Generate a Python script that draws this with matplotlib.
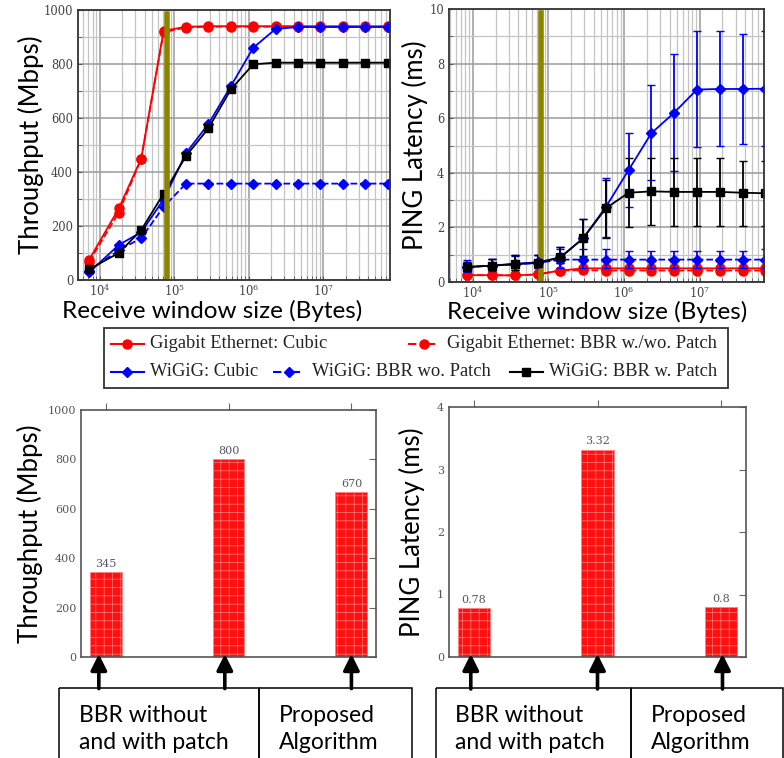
import matplotlib
matplotlib.use('Agg')
import matplotlib.pyplot as plt
from matplotlib.patches import Rectangle
from matplotlib.ticker import MultipleLocator, LogLocator

W, H = 784, 758
plt.rcParams['mathtext.fontset'] = 'dejavuserif'
plt.rcParams['hatch.linewidth'] = 0.5
SANS = 'Lato'
SERIF = 'DejaVu Serif'

# receive window sizes (bytes)
rwnd = [7.2e3, 1.8e4, 3.6e4, 7.2e4, 1.44e5, 2.88e5, 5.76e5, 1.15e6,
        2.3e6, 4.6e6, 9.2e6, 1.84e7, 3.7e7, 7.4e7]
rwnd_ping = [8.5e3] + rwnd[1:]
bdp = 8e4

# throughput (Mbps)
thr_gbe_cubic = [75, 265, 450, 923, 938, 940, 940, 940, 940, 940, 940, 940, 940, 940]
thr_gbe_bbr = [68, 250, 448, 918, 935, 938, 938, 938, 938, 938, 938, 938, 938, 938]
thr_wigig_cubic = [28, 130, 177, 298, 470, 578, 718, 860, 930, 937, 937, 937, 937, 937]
thr_wigig_bbr = [35, 110, 155, 271, 357, 357, 357, 357, 357, 357, 357, 357, 357, 357]
thr_wigig_patch = [40, 100, 185, 320, 459, 562, 706, 799, 805, 805, 805, 805, 805, 805]

# ping latency (ms)
ping_gbe_cubic = [0.25, 0.25, 0.24, 0.28, 0.42, 0.5, 0.5, 0.5, 0.5, 0.5, 0.5, 0.5, 0.5, 0.5]
ping_gbe_bbr = [0.25, 0.25, 0.24, 0.28, 0.42, 0.43, 0.42, 0.42, 0.42, 0.42, 0.42, 0.42, 0.42, 0.42]
ping_wigig_cubic = [0.55, 0.6, 0.67, 0.72, 0.9, 1.6, 2.75, 4.1, 5.45, 6.2, 7.05, 7.07, 7.07, 7.08]
ping_wigig_cubic_lo = [0.35, 0.4, 0.45, 0.5, 0.7, 0.9, 1.65, 2.75, 3.75, 4.05, 4.95, 4.97, 5.05, 4.97]
ping_wigig_cubic_hi = [0.8, 0.85, 0.95, 1.0, 1.3, 2.3, 3.82, 5.45, 7.2, 8.35, 9.2, 9.2, 9.07, 9.2]
ping_wigig_bbr = [0.55, 0.6, 0.65, 0.7, 0.82, 0.82, 0.82, 0.82, 0.82, 0.82, 0.82, 0.82, 0.82, 0.82]
ping_wigig_bbr_lo = [0.4, 0.45, 0.45, 0.5, 0.5, 0.5, 0.5, 0.5, 0.5, 0.5, 0.5, 0.5, 0.5, 0.5]
ping_wigig_bbr_hi = [0.75, 0.85, 1.0, 1.0, 1.2, 1.2, 1.2, 1.15, 1.15, 1.15, 1.15, 1.15, 1.15, 1.2]
ping_wigig_patch = [0.55, 0.6, 0.65, 0.7, 0.9, 1.6, 2.7, 3.27, 3.32, 3.3, 3.3, 3.3, 3.27, 3.25]
ping_wigig_patch_lo = [0.4, 0.45, 0.45, 0.5, 0.7, 0.95, 1.62, 2.0, 2.1, 2.05, 2.05, 2.05, 2.05, 2.05]
ping_wigig_patch_hi = [0.75, 0.85, 1.0, 1.0, 1.3, 2.3, 3.75, 4.55, 4.55, 4.55, 4.55, 4.55, 4.45, 4.42]

# bar summaries
bar_pos = [0, 1, 2]
bar_thr = [345, 800, 670]
bar_ping = [0.78, 3.32, 0.8]
bar_thr_labels = ['345', '800', '670']
bar_ping_labels = ['0.78', '3.32', '0.8']

box_labels = ['BBR without\nand with patch', 'Proposed\nAlgorithm']

legend_entries = [
    ('Gigabit Ethernet: Cubic', 'red', '-', 'o'),
    ('Gigabit Ethernet: BBR w./wo. Patch', 'red', '--', 'o'),
    ('WiGiG: Cubic', 'blue', '-', 'D'),
    ('WiGiG: BBR wo. Patch', 'blue', '--', 'D'),
    ('WiGiG: BBR w. Patch', 'black', '-', 's'),
]


def add_ax(l, t, r, b):
    return fig.add_axes([l / W, 1 - b / H, (r - l) / W, (b - t) / H])


def style_top(ax):
    ax.set_xscale('log')
    ax.xaxis.set_major_locator(LogLocator(base=10, numticks=12))
    ax.xaxis.set_minor_locator(LogLocator(base=10, subs=range(2, 10), numticks=12))
    ax.grid(True, which='major', color='#9a9a9a', lw=1.1)
    ax.grid(True, which='minor', color='#c4c4c4', lw=0.9)
    ax.set_axisbelow(True)
    for s in ax.spines.values():
        s.set_color('#333333')
        s.set_linewidth(1.3)
    ax.tick_params(which='both', direction='in', length=3, color='#555555',
                   labelsize=8.3, labelcolor='#444444')
    ax.tick_params(axis='x', pad=2)
    for lab in ax.get_xticklabels() + ax.get_yticklabels():
        lab.set_family(SERIF)


fig = plt.figure(figsize=(W / 100, H / 100), dpi=100)

# ---------- top left: throughput vs rwnd ----------
ax1 = add_ax(78, 10, 390, 280)
ax1.plot(rwnd, thr_gbe_cubic, '-o', color='red', ms=6.5, lw=1.3)
ax1.plot(rwnd, thr_gbe_bbr, '--o', color='red', ms=6.5, lw=1.3)
ax1.plot(rwnd, thr_wigig_cubic, '-D', color='blue', ms=5.5, lw=1.3)
ax1.plot(rwnd, thr_wigig_bbr, '--D', color='blue', ms=5.5, lw=1.3)
ax1.plot(rwnd, thr_wigig_patch, '-s', color='black', ms=5.5, lw=1.3)
ax1.axvline(bdp, color='#8c8400', lw=4, ymin=0.01, ymax=0.985)
ax1.set_xlim(5.1e3, 7.9e7)
ax1.set_ylim(0, 1000)
ax1.yaxis.set_major_locator(MultipleLocator(200))
ax1.yaxis.set_minor_locator(MultipleLocator(100))
style_top(ax1)
ax1.set_ylabel('Throughput (Mbps)', family=SANS, fontsize=18.5)
ax1.yaxis.set_label_coords(-0.11, 0.5)
ax1.set_xlabel('Receive window size (Bytes)', family=SANS, fontsize=17.5, labelpad=0)
ax1.xaxis.set_label_coords(0.43, -0.072)

# ---------- top right: ping vs rwnd ----------
ax2 = add_ax(449, 9, 764, 282)
ax2.plot(rwnd_ping, ping_gbe_cubic, '-o', color='red', ms=6.5, lw=1.3)
ax2.plot(rwnd_ping, ping_gbe_bbr, '--o', color='red', ms=6.5, lw=1.3)
series = [
    (ping_wigig_cubic, ping_wigig_cubic_lo, ping_wigig_cubic_hi, 'blue', '-', 'D'),
    (ping_wigig_bbr, ping_wigig_bbr_lo, ping_wigig_bbr_hi, 'blue', '--', 'D'),
    (ping_wigig_patch, ping_wigig_patch_lo, ping_wigig_patch_hi, 'black', '-', 's'),
]
for mean, lo, hi, c, ls, m in series:
    err = [[mv - l for mv, l in zip(mean, lo)], [h - mv for mv, h in zip(mean, hi)]]
    ax2.errorbar(rwnd_ping, mean, yerr=err, color=c, ls=ls, marker=m, ms=5.5, lw=1.3,
                 elinewidth=1.3, capsize=3)
ax2.axvline(bdp, color='#8c8400', lw=4, ymin=0.01, ymax=0.985)
ax2.set_xlim(4.85e3, 7.1e7)
ax2.set_ylim(0, 10)
ax2.yaxis.set_major_locator(MultipleLocator(2))
ax2.yaxis.set_minor_locator(MultipleLocator(1))
style_top(ax2)
ax2.set_ylabel('PING Latency (ms)', family=SANS, fontsize=18.5)
ax2.yaxis.set_label_coords(-0.068, 0.5)
ax2.set_xlabel('Receive window size (Bytes)', family=SANS, fontsize=17.5, labelpad=0)
ax2.xaxis.set_label_coords(0.47, -0.07)

# ---------- overlay for legend / boxes ----------
lax = fig.add_axes([0, 0, 1, 1], zorder=-1)
lax.set_xlim(0, W)
lax.set_ylim(H, 0)
lax.axis('off')

lax.add_patch(Rectangle((104, 328), 624, 60, fill=False, lw=1.3, ec='#333333'))
leg_pos = [(111, 344), (408, 344), (111, 372), (273, 372), (510, 372)]
for (label, c, ls, m), (x0, y0) in zip(legend_entries, leg_pos):
    lax.plot([x0, x0 + 33], [y0, y0], color=c, ls=ls, lw=1.5, dashes=(4, 5) if ls == '--' else (None, None))
    lax.plot([x0 + 16.5], [y0], color=c, marker=m, ms=6.5 if m == 'o' else 5.5)
    lax.text(x0 + 39, y0, label, family='Liberation Serif', fontsize=13.3,
             va='center', ha='left', color='#222222')


def bar_panel(ax, vals, labels, ymax, ystep, fmt, box_x, arrow_dx, text_x):
    ax.bar(bar_pos, vals, width=0.26, color='#ff1010', edgecolor='#ff8080',
           hatch='++', lw=0.6)
    for p, v, s in zip(bar_pos, vals, labels):
        ax.text(p, v + ymax * 0.012, s, ha='center', va='bottom', family=SERIF,
                fontsize=8, color='#555566')
    ax.set_xlim(-0.2, 2.2)
    ax.set_ylim(0, ymax)
    ax.yaxis.set_major_locator(MultipleLocator(ystep))
    ax.yaxis.set_major_formatter(fmt)
    ax.set_xticks(bar_pos)
    ax.set_xticklabels([])
    ax.xaxis.tick_top()
    ax.tick_params(axis='x', direction='out', length=5, color='#666666')
    ax.tick_params(axis='y', left=False, right=True, direction='in', length=5,
                   color='#666666', labelsize=8, labelcolor='#555566')
    for lab in ax.get_yticklabels():
        lab.set_family(SERIF)
    for s in ax.spines.values():
        s.set_color('#555555')
        s.set_linewidth(1.2)
    for p, dx in zip(bar_pos, arrow_dx):
        ax.annotate('', xy=(p + dx, ymax * 0.012), xycoords='data',
                    xytext=(p + dx, -0.128), textcoords=('data', 'axes fraction'),
                    arrowprops=dict(arrowstyle='-|>', lw=2.6, color='black',
                                    mutation_scale=24, shrinkA=0, shrinkB=0),
                    annotation_clip=False)
    x0, x1, x2 = box_x
    lax.add_patch(Rectangle((x0, 688), x1 - x0, 80, fill=False, lw=1.1, ec='black'))
    lax.add_patch(Rectangle((x1, 688), x2 - x1, 80, fill=False, lw=1.1, ec='black'))
    for tx, s in zip(text_x, box_labels):
        lax.text(tx, 729, s, family=SANS, fontsize=16.5, ha='left', va='center',
                 linespacing=1.35, color='black')


ax3 = add_ax(81, 410, 376, 657)
bar_panel(ax3, bar_thr, bar_thr_labels, 1000, 200, '{x:.0f}',
          (59, 259, 412), [-0.055, -0.03, 0.0], [79, 279])
ax3.set_ylabel('Throughput (Mbps)', family=SANS, fontsize=18.5)
ax3.yaxis.set_label_coords(-0.13, 0.5)

ax4 = add_ax(449, 407, 746, 657)
bar_panel(ax4, bar_ping, bar_ping_labels, 4, 1, '{x:.0f}',
          (436, 631, 783), [-0.024, 0.0, 0.01], [455, 651])
ax4.set_ylabel('PING Latency (ms)', family=SANS, fontsize=18.5)
ax4.yaxis.set_label_coords(-0.08, 0.5)

fig.savefig('out.png', dpi=100)
